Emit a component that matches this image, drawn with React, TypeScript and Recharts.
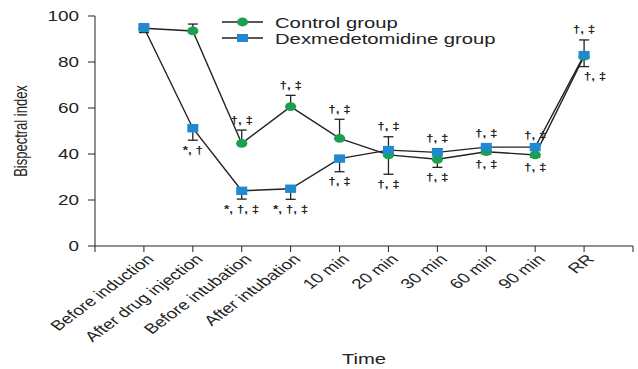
import { LineChart, Line, XAxis, YAxis, ErrorBar, Legend, ReferenceDot } from "recharts";

const categories = [
  "Before induction",
  "After drug injection",
  "Before intubation",
  "After intubation",
  "10 min",
  "20 min",
  "30 min",
  "60 min",
  "90 min",
  "RR",
];

const controlMean = [94.7, 93.5, 44.6, 60.6, 46.8, 39.6, 37.7, 41, 39.6, 82.5];
const controlErrLow = [0, 0, 0, 0, 0, 8.4, 3.5, 1, 1, 4.5];
const controlErrHigh = [1.7, 3, 5.8, 4.9, 8.3, 0, 0, 0, 0, 0];

const dexMean = [95, 51.2, 24, 24.9, 38, 41.7, 40.7, 43, 43, 83];
const dexErrLow = [2.2, 5.2, 3.6, 4.6, 5.7, 0, 0, 0, 0, 0];
const dexErrHigh = [1.4, 0, 0, 0, 0, 5.8, 1.6, 1.5, 0.8, 6.6];

const markAbove = ["", "", "†, ‡", "†, ‡", "†, ‡", "†, ‡", "†, ‡", "†, ‡", "†, ‡", "†, ‡"];
const markBelow = ["", "*, †", "*, †, ‡", "*, †, ‡", "†, ‡", "†, ‡", "†, ‡", "†, ‡", "†, ‡", "†, ‡"];

const yTicks = [0, 20, 40, 60, 80, 100];

const GREEN = "#1ba04e";
const BLUE = "#1f8ad2";
const INK = "#222";
const FONT = "'Liberation Sans', Arial, sans-serif";
// the original figure is stretched sideways
const SX = 1.35;

const data = categories.map((c, i) => ({
  pos: i + 1,
  name: c,
  control: controlMean[i],
  controlErr: [controlErrLow[i], controlErrHigh[i]],
  dex: dexMean[i],
  dexErr: [dexErrLow[i], dexErrHigh[i]],
}));

const tops = data.map((d) => Math.max(d.control + d.controlErr[1], d.dex + d.dexErr[1]));
const bottoms = data.map((d) => Math.min(d.control - d.controlErr[0], d.dex - d.dexErr[0]));

const SquareDot = (props: any) => {
  const { cx, cy } = props;
  if (cx == null || cy == null) return null;
  return <rect x={cx - 5.5} y={cy - 4.2} width={11} height={8.4} fill={BLUE} />;
};

const CircleDot = (props: any) => {
  const { cx, cy } = props;
  if (cx == null || cy == null) return null;
  return <ellipse cx={cx} cy={cy} rx={5.6} ry={4.4} fill={GREEN} />;
};

const XTick = (props: any) => {
  const { x, y, payload } = props;
  const label = categories[payload.value - 1];
  if (!label) return null;
  return (
    <g transform={`translate(${x + 11},${y + 6}) scale(${SX},1) rotate(-45)`}>
      <text x={0} y={0} textAnchor="end" fontSize={14} fontFamily={FONT} fill={INK}>
        {label}
      </text>
    </g>
  );
};

const YTick = (props: any) => {
  const { x, y, payload } = props;
  return (
    <g transform={`translate(${x - 7},${y}) scale(${SX},1)`}>
      <text x={0} y={0} dy={5} textAnchor="end" fontSize={14} fontFamily={FONT} fill={INK}>
        {payload.value}
      </text>
    </g>
  );
};

const YLabel = (props: any) => {
  const vb = props.viewBox || { x: 0, y: 16, height: 230 };
  const cy = vb.y + vb.height / 2;
  return (
    <g transform={`translate(27,${cy}) scale(${SX},1) rotate(-90)`}>
      <text x={0} y={0} textAnchor="middle" fontSize={13} fontFamily={FONT} fill={INK}>
        Bispectral index
      </text>
    </g>
  );
};

const XLabel = (props: any) => {
  const vb = props.viewBox || { x: 95, width: 538 };
  const cx = vb.x + vb.width / 2;
  return (
    <g transform={`translate(${cx},364) scale(${SX},1)`}>
      <text x={0} y={0} textAnchor="middle" fontSize={15} fontFamily={FONT} fill={INK}>
        Time
      </text>
    </g>
  );
};

const Mark = (props: any) => {
  const { viewBox, value, below, shift } = props;
  if (!viewBox) return null;
  const cx = viewBox.x + viewBox.width / 2 + (shift || 0);
  const cy = viewBox.y + (below ? 10 : -10);
  return (
    <g transform={`translate(${cx},${cy}) scale(${SX},1)`}>
      <text
        x={0}
        y={0}
        dy={3.5}
        textAnchor="middle"
        fontSize={10}
        fontWeight="bold"
        fontFamily={FONT}
        fill={INK}
      >
        {value}
      </text>
    </g>
  );
};

const LegendContent = () => {
  const items = [
    { label: "Control group", square: false },
    { label: "Dexmedetomidine group", square: true },
  ];
  return (
    <div style={{ fontFamily: FONT, fontSize: 15, color: INK }}>
      {items.map((it) => (
        <div key={it.label} style={{ display: "flex", alignItems: "center", height: 16 }}>
          <svg width={54} height={12}>
            <line x1={1} y1={6} x2={42} y2={6} stroke={INK} strokeWidth={1.3} />
            {it.square ? (
              <rect x={16} y={2} width={11} height={8} fill={BLUE} />
            ) : (
              <ellipse cx={21.5} cy={6} rx={5.6} ry={4.4} fill={GREEN} />
            )}
          </svg>
          <span
            style={{
              display: "inline-block",
              transform: `scaleX(${SX})`,
              transformOrigin: "left center",
              whiteSpace: "nowrap",
            }}
          >
            {it.label}
          </span>
        </div>
      ))}
    </div>
  );
};

export default function App() {
  return (
    <div style={{ position: "absolute", left: 0, top: 0, background: "#fff" }}>
      <LineChart
        width={638}
        height={369}
        data={data}
        margin={{ top: 16, right: 5, left: 0, bottom: 0 }}
      >
        <XAxis
          dataKey="pos"
          type="number"
          domain={[0, 11]}
          ticks={[0, 1, 2, 3, 4, 5, 6, 7, 8, 9, 10, 11]}
          interval={0}
          tick={<XTick />}
          height={123}
          stroke={INK}
          tickSize={6}
          label={<XLabel />}
        />
        <YAxis
          type="number"
          domain={[0, 100]}
          ticks={yTicks}
          width={95}
          stroke={INK}
          tickSize={7}
          tick={<YTick />}
          label={<YLabel />}
        />
        <Legend
          layout="horizontal"
          verticalAlign="middle"
          align="center"
          content={<LegendContent />}
          wrapperStyle={{ position: "absolute", top: 14, left: 221, width: 320, height: 34 }}
        />
        <Line
          dataKey="control"
          name="Control group"
          stroke={INK}
          strokeWidth={1.4}
          isAnimationActive={false}
          dot={<CircleDot />}
          activeDot={false}
        >
          <ErrorBar dataKey="controlErr" width={5} stroke={INK} strokeWidth={1.3} direction="y" />
        </Line>
        <Line
          dataKey="dex"
          name="Dexmedetomidine group"
          stroke={INK}
          strokeWidth={1.4}
          isAnimationActive={false}
          dot={<SquareDot />}
          activeDot={false}
        >
          <ErrorBar dataKey="dexErr" width={5} stroke={INK} strokeWidth={1.3} direction="y" />
        </Line>
        {data.map((d, i) =>
          markAbove[i] ? (
            <ReferenceDot
              key={`a${i}`}
              x={d.pos}
              y={tops[i]}
              r={0}
              fill="none"
              stroke="none"
              label={<Mark value={markAbove[i]} />}
            />
          ) : null
        )}
        {data.map((d, i) =>
          markBelow[i] ? (
            <ReferenceDot
              key={`b${i}`}
              x={d.pos}
              y={bottoms[i]}
              r={0}
              fill="none"
              stroke="none"
              label={<Mark value={markBelow[i]} below shift={i === categories.length - 1 ? 11 : 0} />}
            />
          ) : null
        )}
      </LineChart>
    </div>
  );
}
